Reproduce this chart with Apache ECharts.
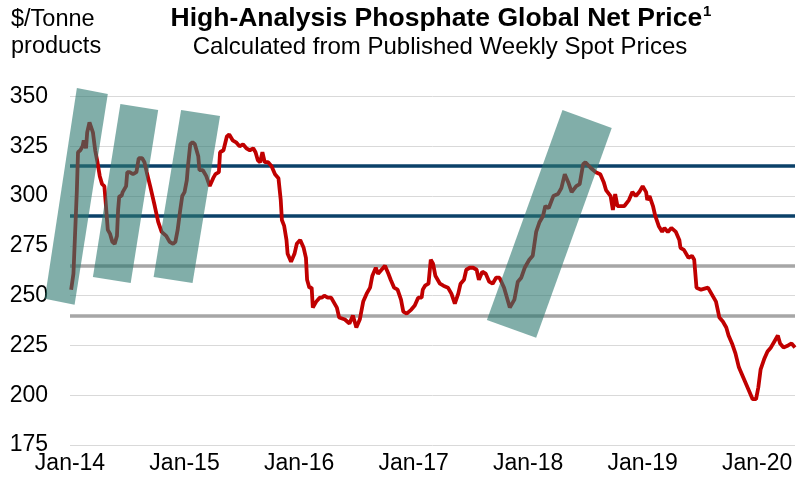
<!DOCTYPE html>
<html>
<head>
<meta charset="utf-8">
<title>High-Analysis Phosphate Global Net Price</title>
<script src="https://cdn.jsdelivr.net/npm/echarts@6/dist/echarts.min.js"></script>
<style>
  html, body { margin: 0; padding: 0; background: #fff; }
  #chart { width: 798px; height: 479px; }
</style>
</head>
<body>
<div id="chart"></div>
<script>
// time position of each reading, in decimal years
var yearPos = [
  2014.01, 2014.03, 2014.06, 2014.07, 2014.09, 2014.11, 2014.12, 2014.13, 2014.14, 2014.15,
  2014.17, 2014.18, 2014.20, 2014.22, 2014.24, 2014.26, 2014.28, 2014.30, 2014.31, 2014.33,
  2014.35, 2014.37, 2014.39, 2014.41, 2014.42, 2014.43, 2014.45, 2014.46, 2014.49, 2014.50,
  2014.52, 2014.55, 2014.58, 2014.60, 2014.63, 2014.65, 2014.67, 2014.70, 2014.74, 2014.77,
  2014.80, 2014.84, 2014.87, 2014.90, 2014.92, 2014.94, 2014.96, 2014.98, 2015.00, 2015.02,
  2015.03, 2015.05, 2015.07, 2015.09, 2015.12, 2015.13, 2015.16, 2015.19, 2015.22, 2015.25,
  2015.27, 2015.30, 2015.31, 2015.34, 2015.37, 2015.39, 2015.42, 2015.45, 2015.48, 2015.51,
  2015.54, 2015.57, 2015.60, 2015.62, 2015.64, 2015.66, 2015.68, 2015.70, 2015.73, 2015.76,
  2015.79, 2015.82, 2015.84, 2015.85, 2015.87, 2015.89, 2015.90, 2015.93, 2015.96, 2015.98,
  2016.01, 2016.04, 2016.06, 2016.07, 2016.09, 2016.11, 2016.12, 2016.15, 2016.18, 2016.20,
  2016.22, 2016.25, 2016.28, 2016.33, 2016.35, 2016.40, 2016.44, 2016.47, 2016.50, 2016.53,
  2016.56, 2016.59, 2016.62, 2016.64, 2016.67, 2016.69, 2016.72, 2016.75, 2016.78, 2016.80,
  2016.83, 2016.86, 2016.89, 2016.91, 2016.94, 2016.98, 2017.01, 2017.04, 2017.07, 2017.08,
  2017.10, 2017.13, 2017.15, 2017.17, 2017.19, 2017.23, 2017.26, 2017.30, 2017.33, 2017.36,
  2017.39, 2017.41, 2017.44, 2017.46, 2017.49, 2017.52, 2017.55, 2017.57, 2017.60, 2017.63,
  2017.66, 2017.69, 2017.72, 2017.75, 2017.79, 2017.84, 2017.88, 2017.91, 2017.94, 2017.97,
  2018.01, 2018.04, 2018.07, 2018.10, 2018.13, 2018.15, 2018.18, 2018.22, 2018.26, 2018.29,
  2018.32, 2018.35, 2018.38, 2018.42, 2018.45, 2018.48, 2018.50, 2018.55, 2018.59, 2018.63,
  2018.66, 2018.68, 2018.72, 2018.74, 2018.76, 2018.78, 2018.84, 2018.88, 2018.91, 2018.94,
  2018.97, 2019.00, 2019.03, 2019.04, 2019.06, 2019.09, 2019.11, 2019.14, 2019.17, 2019.19,
  2019.22, 2019.25, 2019.29, 2019.32, 2019.33, 2019.36, 2019.40, 2019.43, 2019.45, 2019.47,
  2019.51, 2019.57, 2019.61, 2019.64, 2019.67, 2019.70, 2019.73, 2019.75, 2019.78, 2019.81,
  2019.84, 2019.87, 2019.90, 2019.93, 2019.96, 2019.99, 2020.01, 2020.03, 2020.06, 2020.09,
  2020.12, 2020.15, 2020.18, 2020.20, 2020.23, 2020.27, 2020.30, 2020.33
];

// net price, $/tonne
var netPrice = [
  253, 261, 303, 322, 323, 325, 328, 327, 324, 332,
  337, 337, 332, 323, 317, 310, 306, 305, 298, 283,
  281, 277, 276, 280, 293, 300, 300, 302, 305, 312,
  312, 311, 312, 319, 319, 317, 312, 305, 295, 287,
  282, 280, 277, 276, 277, 283, 292, 300, 302, 308,
  315, 326, 327, 326, 320, 313, 313, 310, 305, 309,
  311, 312, 322, 323, 330, 331, 328, 327, 325, 326,
  324, 323, 324, 322, 318, 317, 322, 317, 317, 315,
  311, 309, 298, 288, 285, 278, 271, 267, 271, 276,
  278, 274, 269, 258, 254, 254, 244, 247, 249, 249,
  250, 249, 249, 244, 239, 238, 236, 240, 234, 238,
  247, 251, 254, 260, 264, 261, 263, 265, 261, 258,
  254, 253, 248, 242, 241, 243, 245, 249, 249, 253,
  255, 256, 268, 266, 260, 256, 255, 254, 251, 246,
  251, 256, 258, 263, 264, 264, 263, 258, 262, 261,
  257, 256, 259, 259, 254, 244, 248, 257, 259, 264,
  268, 270, 282, 287, 290, 295, 294, 300, 301, 304,
  311, 307, 302, 305, 306, 316, 317, 314, 312, 311,
  307, 303, 300, 293, 301, 295, 295, 298, 302, 300,
  302, 305, 302, 298, 300, 295, 290, 285, 282, 284,
  282, 284, 282, 278, 274, 273, 269, 270, 268, 254,
  253, 254, 250, 247, 239, 237, 234, 230, 226, 221,
  214, 210, 206, 202, 198, 198, 204, 213, 218, 222,
  224, 227, 230, 226, 224, 225, 226, 224
];

// y axis ticks
var priceTicks = [175, 200, 225, 250, 275, 300, 325, 350];
// x axis labels, one per January
var yearTicks = [2014, 2015, 2016, 2017, 2018, 2019, 2020];

// reference levels: upper band (blue) and lower band (grey)
var blueLevels = [315, 290];
var greyLevels = [265, 240];

// highlighted run-ups, four corners each as [year, price]
var bands = [
  [[2014.06, 354.3], [2014.33, 351.3], [2014.04, 245.4], [2013.78, 248.4]],
  [[2014.44, 346.2], [2014.77, 343.2], [2014.53, 256.4], [2014.20, 259.4]],
  [[2014.97, 343.2], [2015.31, 340.2], [2015.07, 256.4], [2014.73, 259.4]],
  [[2018.30, 343.2], [2018.73, 334.2], [2018.07, 228.8], [2017.64, 237.8]]
];

var font = 'Liberation Sans, Arial, sans-serif';

var lineData = yearPos.map(function (x, i) { return [x, netPrice[i]]; });

var levelLines = [];
blueLevels.forEach(function (v) {
  levelLines.push({ yAxis: v, lineStyle: { color: '#0b4169', width: 3.5, type: 'solid' } });
});
greyLevels.forEach(function (v) {
  levelLines.push({ yAxis: v, lineStyle: { color: '#a6a6a6', width: 3.5, type: 'solid' } });
});

var chart = echarts.init(document.getElementById('chart'));
chart.setOption({
  animation: false,
  backgroundColor: '#fff',
  title: [
    {
      text: '{t|High-Analysis Phosphate Global Net Price}{s|1}',
      left: 441, top: 4, padding: 0, textAlign: 'center',
      textStyle: {
        fontFamily: font, fontSize: 26.5, fontWeight: 'bold', color: '#000',
        rich: {
          t: { fontFamily: font, fontSize: 26.5, fontWeight: 'bold', color: '#000', lineHeight: 30 },
          s: { fontFamily: font, fontSize: 15, fontWeight: 'bold', color: '#000', verticalAlign: 'top', lineHeight: 30, padding: [0, 0, 8, 1] }
        }
      }
    },
    {
      text: 'Calculated from Published Weekly Spot Prices',
      left: 440, top: 35, padding: 0, textAlign: 'center',
      textStyle: { fontFamily: font, fontSize: 24, fontWeight: 'normal', color: '#000' }
    },
    {
      text: '$/Tonne\nproducts',
      left: 11, top: 6, padding: 0,
      textStyle: { fontFamily: font, fontSize: 23.5, fontWeight: 'normal', color: '#000', lineHeight: 27 }
    }
  ],
  grid: { left: 70, right: 2, top: 96.5, bottom: 34, containLabel: false },
  xAxis: {
    type: 'value',
    min: 2014,
    max: 2020.33,
    interval: 1,
    axisLine: { show: false },
    axisTick: { show: false },
    splitLine: { show: false },
    axisLabel: {
      margin: 7,
      fontFamily: font, fontSize: 23, color: '#000',
      formatter: function (v) {
        if (yearTicks.indexOf(v) < 0) return '';
        return 'Jan-' + String(v).slice(2);
      }
    }
  },
  yAxis: {
    type: 'value',
    min: priceTicks[0],
    max: priceTicks[priceTicks.length - 1],
    interval: 25,
    axisLine: { show: false },
    axisTick: { show: false },
    splitLine: { lineStyle: { color: '#d9d9d9', width: 1 } },
    axisLabel: { margin: 22, fontFamily: font, fontSize: 23, color: '#000' }
  },
  series: [
    {
      name: 'Net Price',
      type: 'line',
      data: lineData,
      showSymbol: false,
      lineStyle: { color: '#c00000', width: 3.8 },
      z: 3,
      markLine: {
        silent: true,
        symbol: 'none',
        label: { show: false },
        data: levelLines,
        z: 2
      }
    },
    {
      // teal overlays sit on top of the line
      type: 'custom',
      silent: true,
      clip: false,
      z: 10,
      data: bands.map(function (b) { return b[0]; }),
      renderItem: function (params, api) {
        var pts = bands[params.dataIndex].map(function (c) { return api.coord(c); });
        return {
          type: 'polygon',
          shape: { points: pts },
          style: { fill: 'rgba(45,120,112,0.6)' }
        };
      }
    }
  ]
});
</script>
</body>
</html>
